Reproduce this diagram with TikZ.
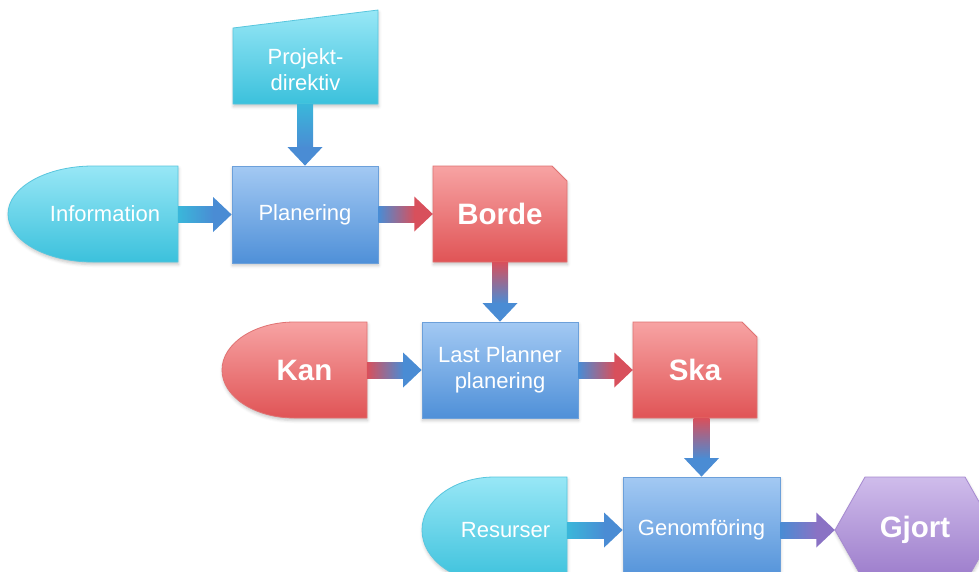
\documentclass[tikz,border=0pt]{standalone}
\usepackage{fontspec}
\setmainfont{Liberation Sans}
\usetikzlibrary{calc,shadows.blur}

% fills of the shapes (top and bottom of each gradient) and their outlines
\definecolor{cyTop}{HTML}{98E7F6}
\definecolor{cyBot}{HTML}{3BC1DC}
\definecolor{cyLine}{HTML}{58C6DE}
\definecolor{blTop}{HTML}{A3C9F3}
\definecolor{blBot}{HTML}{4F90D8}
\definecolor{blLine}{HTML}{6CA0DA}
\definecolor{rdTop}{HTML}{F7A3A3}
\definecolor{rdBot}{HTML}{E05456}
\definecolor{rdLine}{HTML}{E07272}
\definecolor{puTop}{HTML}{CFBCEB}
\definecolor{puBot}{HTML}{9A7ACA}
\definecolor{puLine}{HTML}{A68AD0}
% connector colours
\definecolor{arCy}{HTML}{3AB7DA}
\definecolor{arBl}{HTML}{4A8CD4}
\definecolor{arRd}{HTML}{D8505C}
\definecolor{arPu}{HTML}{8A72C4}

\tikzset{
  shapebase/.style={line width=0.8pt,
    blur shadow={shadow xshift=0.5pt, shadow yshift=-2.5pt,
                 shadow blur radius=3pt, shadow opacity=22}},
  cyanfill/.style={shapebase, top color=cyTop, bottom color=cyBot, draw=cyLine},
  bluefill/.style={shapebase, top color=blTop, bottom color=blBot, draw=blLine},
  redfill/.style={shapebase, top color=rdTop, bottom color=rdBot, draw=rdLine},
  purplefill/.style={shapebase, top color=puTop, bottom color=puBot, draw=puLine},
  txt/.style={text=white, font=\fontsize{22}{26}\selectfont, align=center,
              inner sep=0pt, rectangle},
  txtbold/.style={text=white, font=\fontsize{29.5}{34}\selectfont\bfseries,
              align=center, inner sep=0pt, rectangle},
}

% thick horizontal arrow from node #1 to node #2, shaded from #3 to #4
\newcommand\hfat[4]{%
  \shade[left color=#3, right color=#4]
    ($(#1.east |- #2.west)+(0,-8)$) rectangle ($(#2.west)+(-18,8)$);
  \fill[#4] ($(#2.west)+(-18.5,-17.5)$) -- (#2.west)
    -- ($(#2.west)+(-18.5,17.5)$) -- cycle;}
% thick vertical arrow from node #1 down to node #2, shaded from #3 to #4
\newcommand\vfat[4]{%
  \shade[top color=#3, bottom color=#4]
    ($(#2.north |- #1.south)+(-8,0)$) rectangle ($(#2.north)+(8,-18)$);
  \fill[#4] ($(#2.north)+(-17.5,-18.5)$) -- (#2.north)
    -- ($(#2.north)+(17.5,-18.5)$) -- cycle;}

\begin{document}
\begin{tikzpicture}[x=1pt, y=-1pt]
\useasboundingbox (0,0) rectangle (979,571);
\clip (0,0) rectangle (979,571);

% ---- top: project directive (manual input shape)
\path[cyanfill] (233,28) -- (378,10) -- (378,104) -- (233,104) -- cycle;
\node[txt, minimum width=145pt, minimum height=68pt] (proj) at (305.5,70)
  {Projekt-\\direktiv};

% ---- row 1
\path[cyanfill] (178,166) -- (93,166)
  arc[start angle=270, end angle=90, x radius=85, y radius=48] -- (178,262) -- cycle;
\node[txt, minimum width=146pt, minimum height=96pt] (info) at (105,214) {Information};

\node[bluefill, txt, minimum width=146pt, minimum height=97pt] (plan) at (305,214.5)
  {Planering};

\path[redfill] (433,166) -- (552,166) -- (567,181) -- (567,262) -- (433,262) -- cycle;
\node[txtbold, minimum width=134pt, minimum height=96pt] (borde) at (500,214) {Borde};

% ---- row 2
\path[redfill] (367,322) -- (294.5,322)
  arc[start angle=270, end angle=90, x radius=72.5, y radius=48] -- (367,418) -- cycle;
\node[txtbold, minimum width=125pt, minimum height=96pt] (kan) at (304.5,370) {Kan};

\node[bluefill, txt, minimum width=156pt, minimum height=96pt] (lp) at (500,370)
  {Last Planner\\planering};

\path[redfill] (633,322) -- (742,322) -- (757,337) -- (757,418) -- (633,418) -- cycle;
\node[txtbold, minimum width=124pt, minimum height=96pt] (ska) at (695,370) {Ska};

% ---- row 3
\path[cyanfill] (567,477) -- (494.5,477)
  arc[start angle=270, end angle=90, x radius=72.5, y radius=53] -- (567,583) -- cycle;
\node[txt, minimum width=123pt, minimum height=106pt] (res) at (505.5,530) {Resurser};

\node[bluefill, txt, minimum width=157pt, minimum height=106pt] (gen) at (701.5,530)
  {Genomföring};

\path[purplefill] (835,530) -- (865,477) -- (965,477) -- (995,530)
  -- (965,583) -- (865,583) -- cycle;
\node[txtbold, minimum width=160pt, minimum height=106pt] (gjort) at (915,530) {Gjort};

% ---- connectors
\vfat{proj}{plan}{arCy}{arBl}
\hfat{info}{plan}{arCy}{arBl}
\hfat{plan}{borde}{arBl}{arRd}
\vfat{borde}{lp}{arRd}{arBl}
\hfat{kan}{lp}{arRd}{arBl}
\hfat{lp}{ska}{arBl}{arRd}
\vfat{ska}{gen}{arRd}{arBl}
\hfat{res}{gen}{arCy}{arBl}
\hfat{gen}{gjort}{arBl}{arPu}
\end{tikzpicture}
\end{document}
